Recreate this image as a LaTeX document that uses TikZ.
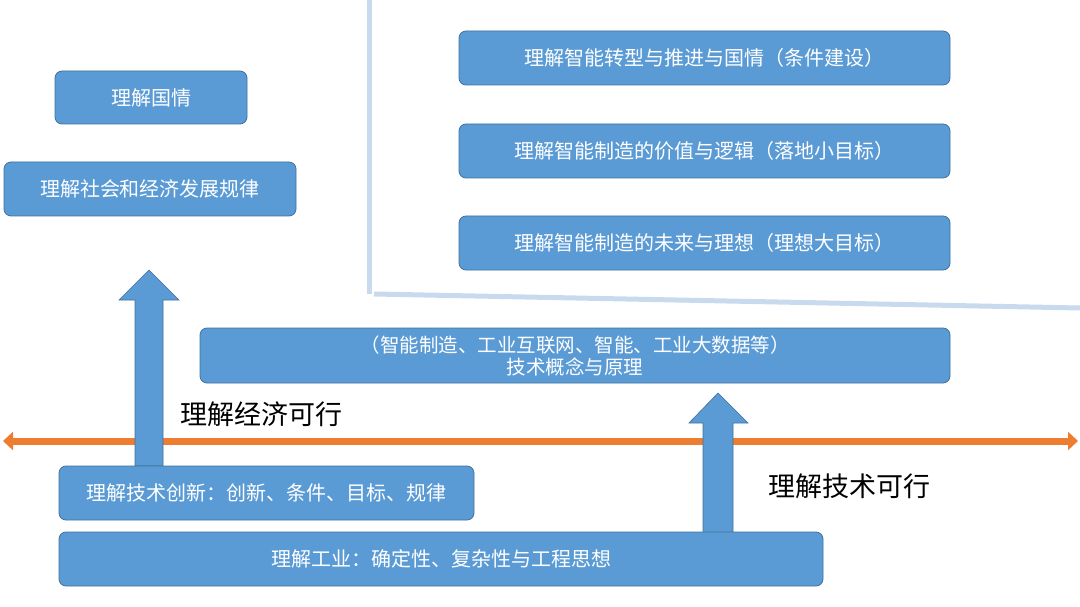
\documentclass[tikz,border=0pt]{standalone}
\usepackage{fontspec}
\setmainfont{Noto Sans CJK SC}
\usetikzlibrary{arrows.meta}
\definecolor{boxfill}{HTML}{5B9BD5}
\definecolor{boxline}{HTML}{41719C}
\definecolor{orangeline}{HTML}{ED7D31}
\definecolor{framec}{HTML}{C9DAEE}
\begin{document}
\begin{tikzpicture}[x=1pt,y=-1pt,
  bbox/.style={draw=boxline,line width=0.8pt,fill=boxfill,rounded corners=7pt,text=white,font=\fontsize{20}{23}\selectfont,align=center,inner sep=0pt},
  upar/.style={draw=boxline,line width=0.6pt,fill=boxfill},
  lbl/.style={font=\fontsize{27}{30}\selectfont,text=black,anchor=west,inner sep=0pt}]
\useasboundingbox (0,0) rectangle (1080,607);
% frame
\draw[framec,line width=5pt] (369,0) -- (369,294);
\draw[framec,line width=5pt] (374,294) -- (1080,308);
% orange double arrow
\coordinate (oL) at (3,441);
\coordinate (oR) at (1078,441);
\draw[orangeline,line width=7pt,{Triangle[width=18pt,length=10pt]}-{Triangle[width=18pt,length=10pt]}] (oL) -- (oR);
% up arrows
\draw[upar] (135,466) -- (135,300) -- (119,300) -- (149,270) -- (179,300) -- (163,300) -- (163,466) -- cycle;
\draw[upar] (703,533) -- (703,423) -- (689,423) -- (718,393) -- (748,423) -- (733,423) -- (733,533) -- cycle;
% boxes
\node[bbox,minimum width=192pt,minimum height=53pt] (guoqing) at (151,97.5) {理解国情};
\node[bbox,minimum width=292pt,minimum height=54pt] (shehui) at (150,189) {理解社会和经济发展规律};
\node[bbox,minimum width=491pt,minimum height=54pt] (t1) at (704.5,58) {理解智能转型与推进与国情（条件建设）};
\node[bbox,minimum width=491pt,minimum height=54pt] (t2) at (704.5,151) {理解智能制造的价值与逻辑（落地小目标）};
\node[bbox,minimum width=491pt,minimum height=54pt] (t3) at (704.5,243) {理解智能制造的未来与理想（理想大目标）};
\node[bbox,minimum width=750pt,minimum height=55pt,font=\fontsize{19.5}{22}\selectfont] (jishu) at (575,355.5) {（智能制造、工业互联网、智能、工业大数据等）\\技术概念与原理};
\node[bbox,minimum width=415pt,minimum height=54pt] (chuangxin) at (266.5,493) {理解技术创新：创新、条件、目标、规律};
\node[bbox,minimum width=764pt,minimum height=54pt] (gongye) at (441,559) {理解工业：确定性、复杂性与工程思想};
% labels
\node[lbl] (jingji) at (180,414) {理解经济可行};
\node[lbl] (jishukx) at (768,486) {理解技术可行};
\end{tikzpicture}
\end{document}
